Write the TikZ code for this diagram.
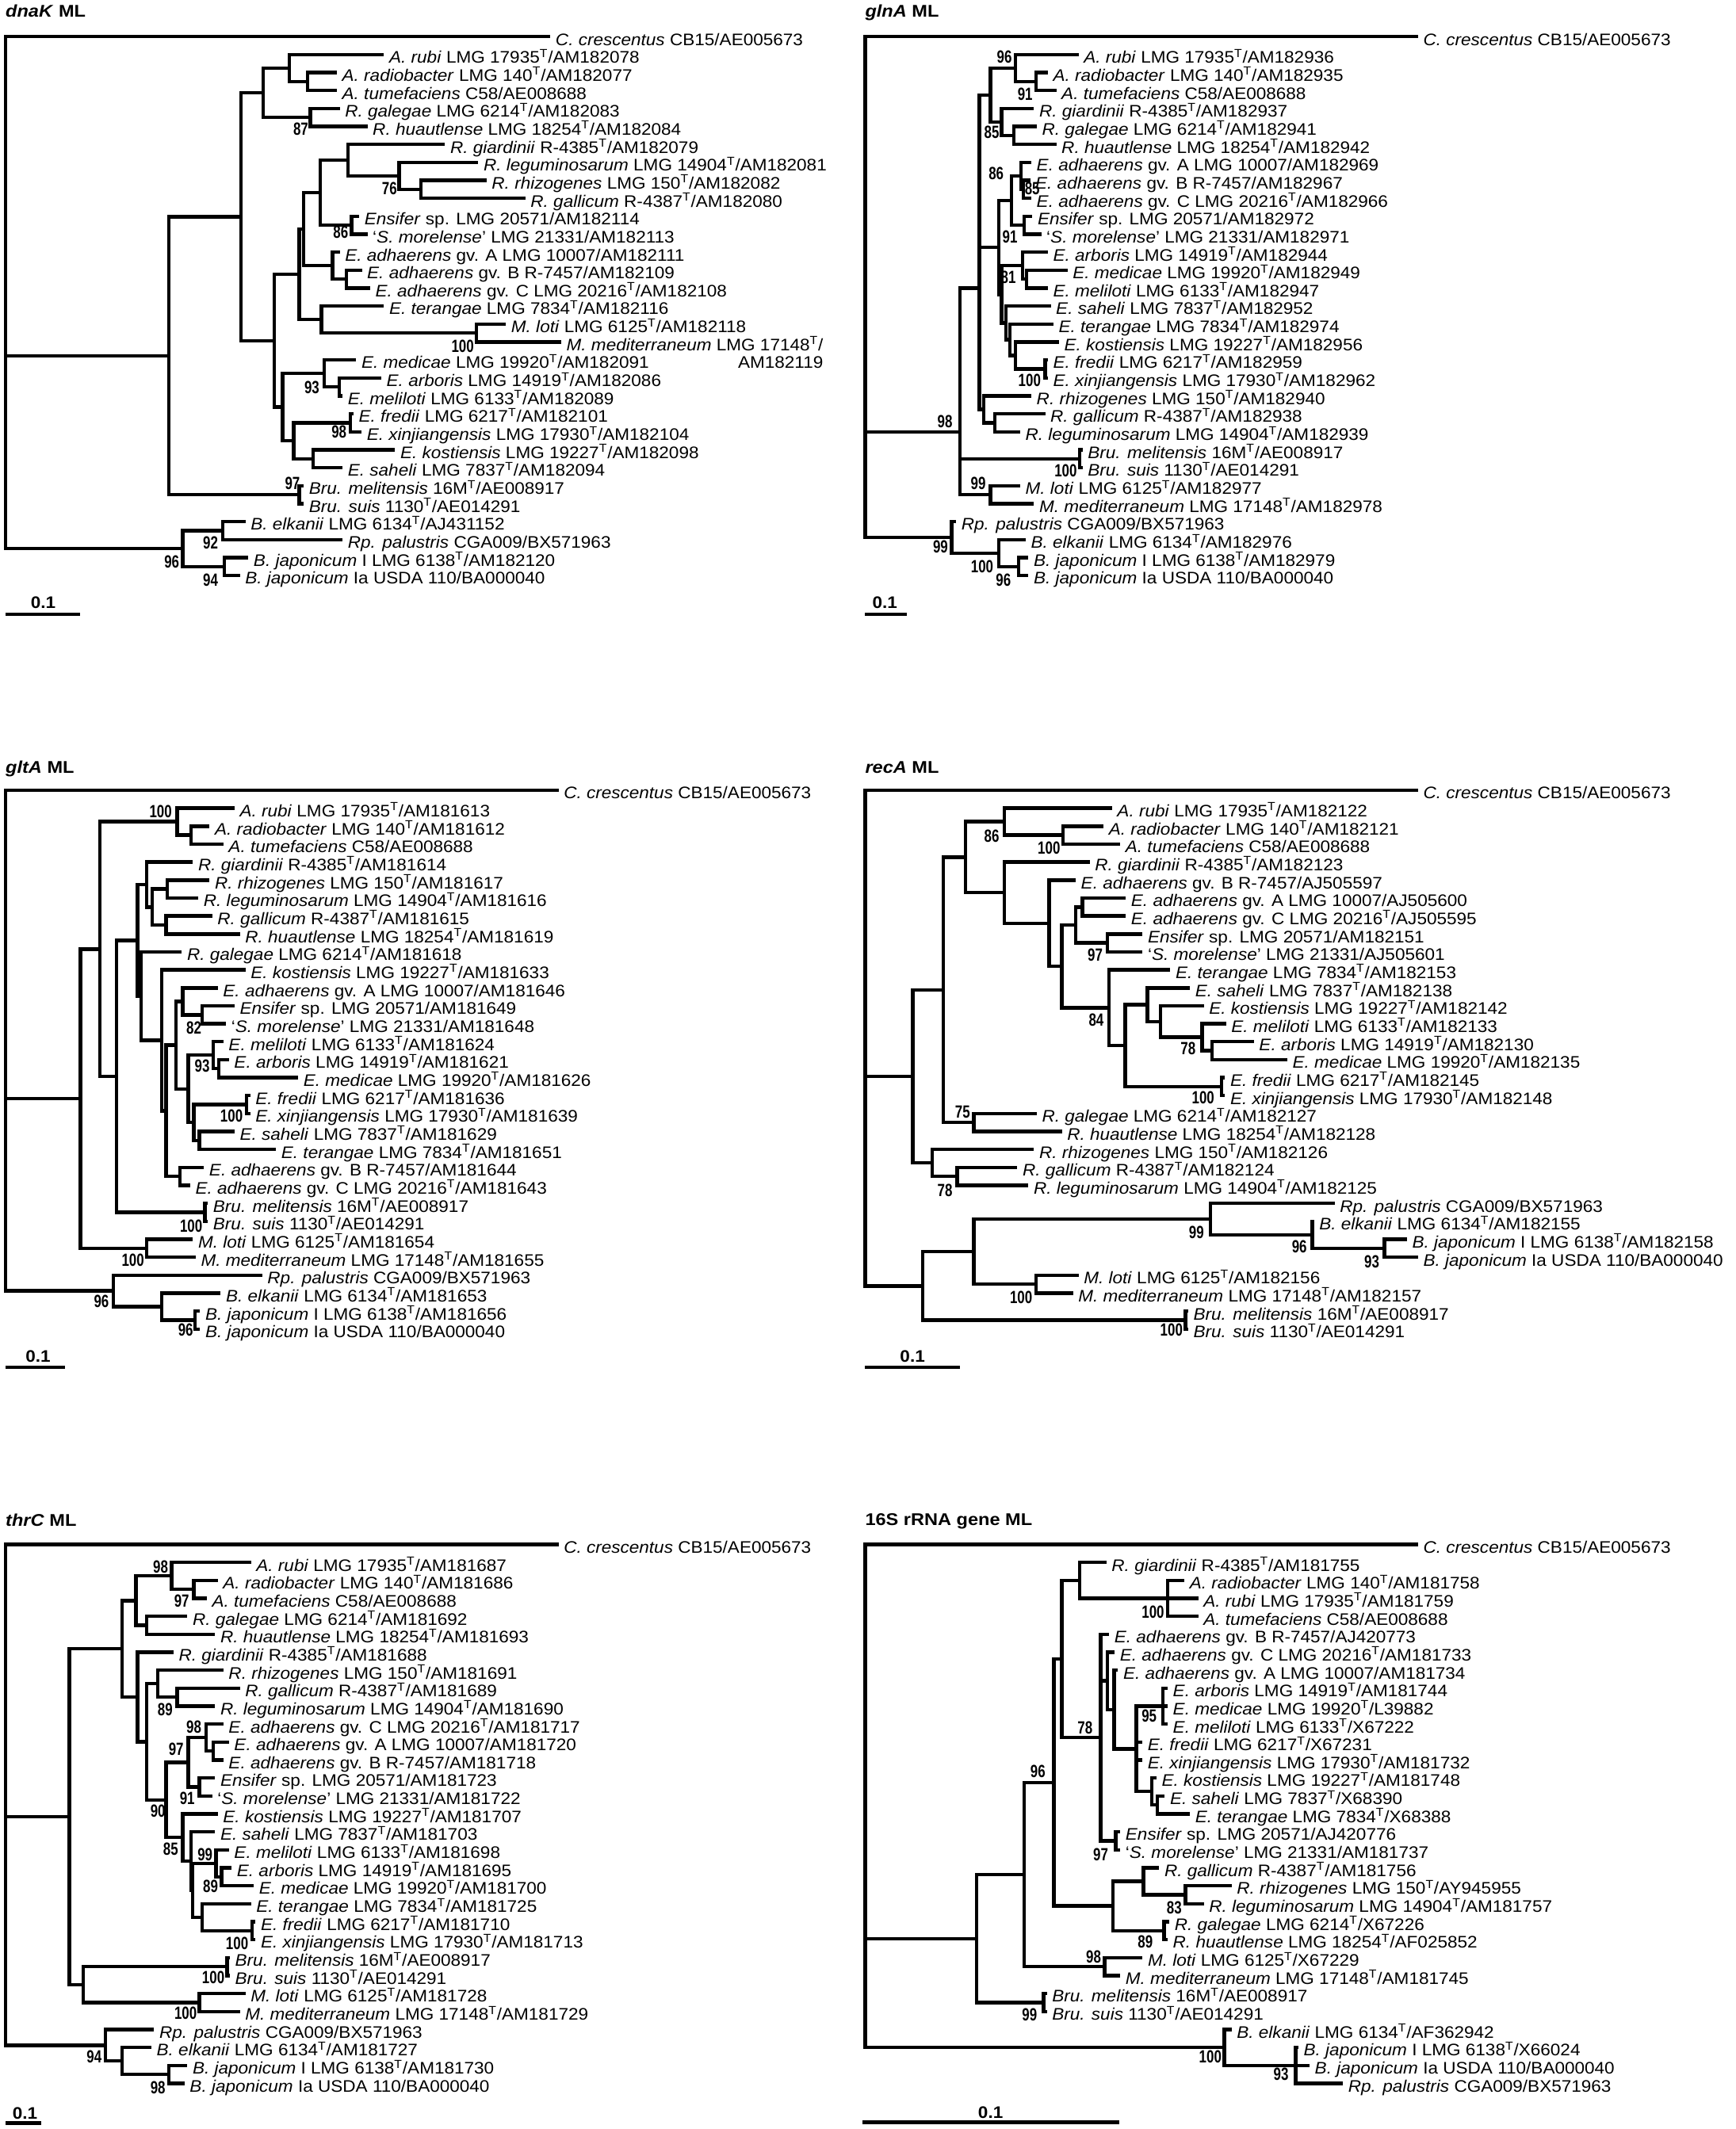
\documentclass[tikz,border=0pt]{standalone}
\usepackage{fontspec}
\setmainfont{Liberation Sans}[FakeStretch=1.07]
\newfontfamily\bsf{Liberation Sans}[FakeStretch=0.76]
\newfontfamily\ttf{Liberation Sans}[FakeStretch=1.1]
\usetikzlibrary{calc}
\newcounter{bsc}
\newcommand\supT{\textsuperscript{T}}
\def\Bz{0}
\tikzset{
 brl/.style={line width=2.6pt, line cap=rect},
 lab/.style={anchor=base west, inner sep=0pt, font=\fontsize{12.3}{14}\selectfont},
 bsn/.style={inner sep=0pt, font=\bsf\bfseries\fontsize{13}{13}\selectfont},
 ttl/.style={anchor=base west, inner sep=0pt, font=\ttf\bfseries\fontsize{12.5}{14}\selectfont},
 sbt/.style={inner sep=0pt, font=\bfseries\fontsize{12.3}{14}\selectfont}
}
\newcommand\lf[4]{\coordinate (#1) at (#2pt,{-(\Bz+13.23*#3)*1pt});
  \node[lab] (#1l) at ([xshift=5pt,yshift=-6.3pt]#1) {#4};}
\newcommand\nd[4]{\path let \p1=(#3),\p2=(#4) in (#2pt,{0.5*\y1+0.5*\y2}) coordinate (#1);
  \draw[brl] (#1) |- (#3); \draw[brl] (#1) |- (#4);}
\newcommand\ndm[5]{\nd{#1}{#2}{#3}{#4}\foreach \kid in {#5}{\draw[brl] (#1) |- (\kid);}}
\newcommand\nde[4]{\coordinate (#1) at (#2pt,{-(\Bz+13.23*#3)*1pt});
  \foreach \kid in {#4}{\draw[brl] (#1) |- (\kid);}}
\newcommand\bs[3]{\stepcounter{bsc}\node[bsn] (bs\arabic{bsc}) at (#1pt,-#2pt) {#3};}
% species
\newcommand\Ccr{\textit{C. crescentus} CB15/AE005673}
\newcommand\Arubi[1]{\textit{A. rubi} LMG 17935\supT/#1}
\newcommand\Arad[1]{\textit{A. radiobacter} LMG 140\supT/#1}
\newcommand\Atum{\textit{A. tumefaciens} C58/AE008688}
\newcommand\Rgal[1]{\textit{R. galegae} LMG 6214\supT/#1}
\newcommand\Rhua[1]{\textit{R. huautlense} LMG 18254\supT/#1}
\newcommand\Rgia[1]{\textit{R. giardinii} R-4385\supT/#1}
\newcommand\Rleg[1]{\textit{R. leguminosarum} LMG 14904\supT/#1}
\newcommand\Rrhi[1]{\textit{R. rhizogenes} LMG 150\supT/#1}
\newcommand\Rgll[1]{\textit{R. gallicum} R-4387\supT/#1}
\newcommand\Ens[1]{\textit{Ensifer} sp. LMG 20571/#1}
\newcommand\Smor[1]{‘\textit{S. morelense}’ LMG 21331/#1}
\newcommand\EaA[1]{\textit{E. adhaerens} gv. A LMG 10007/#1}
\newcommand\EaB[1]{\textit{E. adhaerens} gv. B R-7457/#1}
\newcommand\EaC[1]{\textit{E. adhaerens} gv. C LMG 20216\supT/#1}
\newcommand\Eter[1]{\textit{E. terangae} LMG 7834\supT/#1}
\newcommand\Mlot[1]{\textit{M. loti} LMG 6125\supT/#1}
\newcommand\Mmed[1]{\textit{M. mediterraneum} LMG 17148\supT/#1}
\newcommand\Emed[1]{\textit{E. medicae} LMG 19920\supT/#1}
\newcommand\Earb[1]{\textit{E. arboris} LMG 14919\supT/#1}
\newcommand\Emel[1]{\textit{E. meliloti} LMG 6133\supT/#1}
\newcommand\Efre[1]{\textit{E. fredii} LMG 6217\supT/#1}
\newcommand\Exin[1]{\textit{E. xinjiangensis} LMG 17930\supT/#1}
\newcommand\Ekos[1]{\textit{E. kostiensis} LMG 19227\supT/#1}
\newcommand\Esah[1]{\textit{E. saheli} LMG 7837\supT/#1}
\newcommand\Bmel{\textit{Bru. melitensis} 16M\supT/AE008917}
\newcommand\Bsui{\textit{Bru. suis} 1130\supT/AE014291}
\newcommand\Belk[1]{\textit{B. elkanii} LMG 6134\supT/#1}
\newcommand\Rpal{\textit{Rp. palustris} CGA009/BX571963}
\newcommand\BjI[1]{\textit{B. japonicum} I LMG 6138\supT/#1}
\newcommand\BjIa{\textit{B. japonicum} Ia USDA 110/BA000040}
\begin{document}
\begin{tikzpicture}
\useasboundingbox (0,0) rectangle (1278pt,-1568pt);
% ================= dnaK =================
\def\Bz{27}
\node[ttl] (T1) at (4pt,-12.4pt) {\textit{dnaK} ML};
\lf{d0}{404}{0}{\Ccr}
\lf{d1}{281.5}{1}{\Arubi{AM182078}}
\lf{d2}{246.8}{2}{\Arad{AM182077}}
\lf{d3}{246.8}{3}{\Atum}
\lf{d4}{248.9}{4}{\Rgal{AM182083}}
\lf{d5}{269.3}{5}{\Rhua{AM182084}}
\lf{d6}{326.4}{6}{\Rgia{AM182079}}
\lf{d7}{350.9}{7}{\Rleg{AM182081}}
\lf{d8}{357}{8}{\Rrhi{AM182082}}
\lf{d9}{385.6}{9}{\Rgll{AM182080}}
\lf{d10}{263.2}{10}{\Ens{AM182114}}
\lf{d11}{269.3}{11}{\Smor{AM182113}}
\lf{d12}{248.9}{12}{\EaA{AM182111}}
\lf{d13}{265.2}{13}{\EaB{AM182109}}
\lf{d14}{271.3}{14}{\EaC{AM182108}}
\lf{d15}{281.5}{15}{\Eter{AM182116}}
\lf{d16}{371.3}{16}{\Mlot{AM182118}}
\lf{d17}{412}{17}{\Mmed{}}
\node[lab,anchor=base east] (d17m) at ([yshift=-13.23pt]d17l.base east) {AM182119};
\lf{d18}{261}{18}{\Emed{AM182091}}
\lf{d19}{279.5}{19}{\Earb{AM182086}}
\lf{d20}{251}{20}{\Emel{AM182089}}
\lf{d21}{259}{21}{\Efre{AM182101}}
\lf{d22}{265}{22}{\Exin{AM182104}}
\lf{d23}{289.7}{23}{\Ekos{AM182098}}
\lf{d24}{251}{24}{\Esah{AM182094}}
\lf{d25}{222.4}{25}{\Bmel}
\lf{d26}{222.4}{26}{\Bsui}
\lf{d27}{179.5}{27}{\Belk{AJ431152}}
\lf{d28}{251}{28}{\Rpal}
\lf{d29}{181.6}{29}{\BjI{AM182120}}
\lf{d30}{175.4}{30}{\BjIa}
\nd{dRT}{226.4}{d2}{d3}
\nd{dAgro}{213}{d1}{dRT}
\nd{dRgh}{228.5}{d4}{d5}
\nd{dAR}{193.8}{dAgro}{dRgh}
\nd{dR3}{310}{d8}{d9}
\nd{dR2}{293.8}{d7}{dR3}
\nd{dR}{256.2}{d6}{dR2}
\nd{dEns}{259}{d10}{d11}
\nd{dD1a}{235.8}{dR}{dEns}
\nd{dBC}{255}{d13}{d14}
\nd{dEadh}{244.8}{d12}{dBC}
\nd{dD1}{223.6}{dD1a}{dEadh}
\nd{dM}{350.9}{d16}{d17}
\nd{dD2}{236.6}{d15}{dM}
\nd{dD}{220.3}{dD1}{dD2}
\nd{dE1b}{249.7}{d19}{d20}
\nd{dE1}{238.7}{d18}{dE1b}
\nd{dFX}{257.9}{d21}{d22}
\nd{dKS}{230.5}{d23}{d24}
\nd{dE2}{216.2}{dFX}{dKS}
\nd{dE}{208}{dE1}{dE2}
\nd{dC}{202}{dD}{dE}
\nd{dB}{177.5}{dAR}{dC}
\nd{dBru}{220.3}{d25}{d26}
\nd{dA}{124.4}{dB}{dBru}
\nd{dG}{164}{d27}{d28}
\nd{dH}{165.2}{d29}{d30}
\nd{dBr}{134.6}{dG}{dH}
\nde{dRoot}{4}{0}{d0,dA,dBr}
\bs{221.5}{95.3}{87}\bs{286.8}{139.1}{76}\bs{250.9}{170.9}{86}\bs{340.7}{254.9}{100}
\bs{229.7}{285.1}{93}\bs{249.7}{318.1}{98}\bs{215.4}{356.1}{97}\bs{155}{399.9}{92}
\bs{126.5}{413.5}{96}\bs{155}{427.1}{94}
\coordinate (sb1a) at (4pt,-452.4pt); \coordinate (sb1b) at (59pt,-452.4pt);
\draw[brl,line cap=butt] (sb1a) -- (sb1b);
\node[sbt] (sb1t) at (31.8pt,-443.6pt) {0.1};
% ================= glnA =================
\def\Bz{27}
\node[ttl] (T2) at (637pt,-12.4pt) {\textit{glnA} ML};
\lf{g0}{1043}{0}{\Ccr}
\lf{g1}{793}{1}{\Arubi{AM182936}}
\lf{g2}{770.4}{2}{\Arad{AM182935}}
\lf{g3}{776.6}{3}{\Atum}
\lf{g4}{760.2}{4}{\Rgia{AM182937}}
\lf{g5}{762.2}{5}{\Rgal{AM182941}}
\lf{g6}{776.6}{6}{\Rhua{AM182942}}
\lf{g7}{758.2}{7}{\EaA{AM182969}}
\lf{g8}{757.3}{8}{\EaB{AM182967}}
\lf{g9}{758.2}{9}{\EaC{AM182966}}
\lf{g10}{759}{10}{\Ens{AM182972}}
\lf{g11}{765.5}{11}{\Smor{AM182971}}
\lf{g12}{770.4}{12}{\Earb{AM182944}}
\lf{g13}{784.8}{13}{\Emed{AM182949}}
\lf{g14}{770.4}{14}{\Emel{AM182947}}
\lf{g15}{772.5}{15}{\Esah{AM182952}}
\lf{g16}{774.5}{16}{\Eter{AM182974}}
\lf{g17}{778.6}{17}{\Ekos{AM182956}}
\lf{g18}{770.4}{18}{\Efre{AM182959}}
\lf{g19}{770.4}{19}{\Exin{AM182962}}
\lf{g20}{758.2}{20}{\Rrhi{AM182940}}
\lf{g21}{768.4}{21}{\Rgll{AM182938}}
\lf{g22}{750}{22}{\Rleg{AM182939}}
\lf{g23}{795.9}{23}{\Bmel}
\lf{g24}{795.9}{24}{\Bsui}
\lf{g25}{750}{25}{\Mlot{AM182977}}
\lf{g26}{760.2}{26}{\Mmed{AM182978}}
\lf{g27}{702.8}{27}{\Rpal}
\lf{g28}{754}{28}{\Belk{AM182976}}
\lf{g29}{756.1}{29}{\BjI{AM182979}}
\lf{g30}{756.1}{30}{\BjIa}
\nd{gRT}{763.1}{g2}{g3}
\nd{gAgro}{747.9}{g1}{gRT}
\nd{gGH}{746.7}{g5}{g6}
\nd{gR}{737.7}{g4}{gGH}
\nd{gAR}{729.5}{gAgro}{gR}
\nd{gBC}{753.6}{g8}{g9}
\nd{gAdh}{752}{g7}{gBC}
\nd{gEns}{754.1}{g10}{g11}
\nd{gAE}{745}{gAdh}{gEns}
\nd{gMM}{756.1}{g13}{g14}
\nd{gAM}{753.2}{g12}{gMM}
\nd{gFX}{769.6}{g18}{g19}
\nd{gKF}{747.9}{g17}{gFX}
\nd{gTK}{743.8}{g16}{gKF}
\nd{gST}{740.9}{g15}{gTK}
\nd{gE2}{737.7}{gAM}{gST}
\nd{gE}{735.6}{gAE}{gE2}
\nd{gGL}{732.7}{g21}{g22}
\nd{gRR}{724.5}{g20}{gGL}
\nde{gB}{721.3}{14}{gAR,gE,gRR}
\nd{gBru}{795}{g23}{g24}
\nd{gM}{729.5}{g25}{g26}
\nde{gA}{706.9}{22}{gB,gBru,gM}
\nd{gBJ}{750}{g29}{g30}
\nd{gBE}{735.6}{g28}{gBJ}
\nd{gBr}{700.8}{g27}{gBE}
\nde{gRoot}{637.2}{0}{g0,gA,gBr}
\bs{739.7}{41.8}{96}\bs{754.9}{69.1}{91}\bs{730.3}{97.3}{85}\bs{733.6}{127.5}{86}
\bs{760.2}{139.1}{85}\bs{743.8}{174.2}{91}\bs{742.6}{204.3}{81}\bs{758.2}{280.2}{100}
\bs{695.9}{310.4}{98}\bs{784.8}{346.4}{100}\bs{720.4}{356.1}{99}\bs{692.6}{402.8}{99}
\bs{723.3}{417.4}{100}\bs{738.9}{427.1}{96}
\coordinate (sb2a) at (637pt,-452.4pt); \coordinate (sb2b) at (668pt,-452.4pt);
\draw[brl,line cap=butt] (sb2a) -- (sb2b);
\node[sbt] (sb2t) at (651.6pt,-444pt) {0.1};
% ================= gltA =================
\def\Bz{582}
\node[ttl] (T3) at (4pt,-569.7pt) {\textit{gltA} ML};
\lf{t0}{410}{0}{\Ccr}
\lf{t1}{171.4}{1}{\Arubi{AM181613}}
\lf{t2}{153}{2}{\Arad{AM181612}}
\lf{t3}{163.2}{3}{\Atum}
\lf{t4}{140.8}{4}{\Rgia{AM181614}}
\lf{t5}{153}{5}{\Rrhi{AM181617}}
\lf{t6}{144.8}{6}{\Rleg{AM181616}}
\lf{t7}{155}{7}{\Rgll{AM181615}}
\lf{t8}{175.4}{8}{\Rhua{AM181619}}
\lf{t9}{132.6}{9}{\Rgal{AM181618}}
\lf{t10}{179.5}{10}{\Ekos{AM181633}}
\lf{t11}{159.1}{11}{\EaA{AM181646}}
\lf{t12}{171.4}{12}{\Ens{AM181649}}
\lf{t13}{165.2}{13}{\Smor{AM181648}}
\lf{t14}{163.2}{14}{\Emel{AM181624}}
\lf{t15}{167.3}{15}{\Earb{AM181621}}
\lf{t16}{218.3}{16}{\Emed{AM181626}}
\lf{t17}{183}{17}{\Efre{AM181636}}
\lf{t18}{183}{18}{\Exin{AM181639}}
\lf{t19}{171.4}{19}{\Esah{AM181629}}
\lf{t20}{202}{20}{\Eter{AM181651}}
\lf{t21}{148.9}{21}{\EaB{AM181644}}
\lf{t22}{138.7}{22}{\EaC{AM181643}}
\lf{t23}{151.8}{23}{\Bmel}
\lf{t24}{151.8}{24}{\Bsui}
\lf{t25}{140.8}{25}{\Mlot{AM181654}}
\lf{t26}{142.8}{26}{\Mmed{AM181655}}
\lf{t27}{191.8}{27}{\Rpal}
\lf{t28}{161.2}{28}{\Belk{AM181653}}
\lf{t29}{146}{29}{\BjI{AM181656}}
\lf{t30}{146}{30}{\BjIa}
\nd{tRT}{140.8}{t2}{t3}
\nd{tAgro}{130.6}{t1}{tRT}
\nd{tRL}{123.2}{t5}{t6}
\nd{tGH}{122.4}{t7}{t8}
\nd{tRLGH}{112.2}{tRL}{tGH}
\nd{tRg}{108.1}{t4}{tRLGH}
\nd{tES}{148.9}{t12}{t13}
\nd{tAES}{134.6}{t11}{tES}
\nd{tAM}{161.2}{t15}{t16}
\nd{tMAM}{157}{t14}{tAM}
\nd{tFX}{181.6}{t17}{t18}
\nd{tST}{146.9}{t19}{t20}
\nd{tFXST}{142.8}{tFX}{tST}
\nd{tQ}{138.7}{tMAM}{tFXST}
\nd{tY}{129.7}{tAES}{tQ}
\nd{tBC}{132.6}{t21}{t22}
\nd{tZ}{122.4}{tY}{tBC}
\nd{tK}{119.1}{t10}{tZ}
\nd{tRG2}{104}{t9}{tK}
\nd{tX1}{101.2}{tRg}{tRG2}
\nd{tBru}{151}{t23}{t24}
\nd{tX0}{85.7}{tX1}{tBru}
\nd{tW}{73.4}{tAgro}{tX0}
\nd{tM}{108.1}{t25}{t26}
\nd{tV}{59.2}{tW}{tM}
\nd{tBJ}{143.6}{t29}{t30}
\nd{tEBJ}{119.1}{t28}{tBJ}
\nd{tBr}{83.6}{t27}{tEBJ}
\nde{tRoot}{4.1}{0}{t0,tV,tBr}
\bs{118.3}{597.4}{100}\bs{142.8}{756.9}{82}\bs{148.9}{785.1}{93}\bs{170.5}{822.1}{100}
\bs{140.8}{902.9}{100}\bs{97.9}{928.2}{100}\bs{74.7}{958.3}{96}\bs{136.7}{979.7}{96}
\coordinate (sb3a) at (4pt,-1007pt); \coordinate (sb3b) at (48pt,-1007pt);
\draw[brl,line cap=butt] (sb3a) -- (sb3b);
\node[sbt] (sb3t) at (28pt,-999pt) {0.1};
% ================= recA =================
\def\Bz{582}
\node[ttl] (T4) at (637pt,-569.7pt) {\textit{recA} ML};
\lf{r0}{1043}{0}{\Ccr}
\lf{r1}{817.6}{1}{\Arubi{AM182122}}
\lf{r2}{811.4}{2}{\Arad{AM182121}}
\lf{r3}{823.7}{3}{\Atum}
\lf{r4}{801.2}{4}{\Rgia{AM182123}}
\lf{r5}{790.9}{5}{\EaB{AJ505597}}
\lf{r6}{827.8}{6}{\EaA{AJ505600}}
\lf{r7}{827.8}{7}{\EaC{AJ505595}}
\lf{r8}{840.1}{8}{\Ens{AM182151}}
\lf{r9}{840.1}{9}{\Smor{AJ505601}}
\lf{r10}{860.6}{10}{\Eter{AM182153}}
\lf{r11}{875}{11}{\Esah{AM182138}}
\lf{r12}{885.2}{12}{\Ekos{AM182142}}
\lf{r13}{901.6}{13}{\Emel{AM182133}}
\lf{r14}{922.1}{14}{\Earb{AM182130}}
\lf{r15}{946.7}{15}{\Emed{AM182135}}
\lf{r16}{900.8}{16}{\Efre{AM182145}}
\lf{r17}{900.8}{17}{\Exin{AM182148}}
\lf{r18}{762.2}{18}{\Rgal{AM182127}}
\lf{r19}{780.7}{19}{\Rhua{AM182128}}
\lf{r20}{760.2}{20}{\Rrhi{AM182126}}
\lf{r21}{747.9}{21}{\Rgll{AM182124}}
\lf{r22}{756.1}{22}{\Rleg{AM182125}}
\lf{r23}{981.5}{23}{\Rpal}
\lf{r24}{966.4}{24}{\Belk{AM182155}}
\lf{r25}{1034.8}{25}{\BjI{AM182158}}
\lf{r26}{1043}{26}{\BjIa}
\lf{r27}{793}{27}{\Mlot{AM182156}}
\lf{r28}{788.9}{28}{\Mmed{AM182157}}
\lf{r29}{873.7}{29}{\Bmel}
\lf{r30}{873.7}{30}{\Bsui}
\nd{rRT}{782.7}{r2}{r3}
\nd{rAgro}{739.7}{r1}{rRT}
\nd{rAC}{797.1}{r6}{r7}
\nd{rES}{815.5}{r8}{r9}
\nd{rACES}{792.2}{rAC}{rES}
\nd{rAM}{892.6}{r14}{r15}
\nd{rMAM}{885.2}{r13}{rAM}
\nd{rKM}{854.5}{r12}{rMAM}
\nd{rS}{845}{r11}{rKM}
\nd{rFX}{899.5}{r16}{r17}
\nd{rSF}{828.6}{rS}{rFX}
\nd{rTE}{816.8}{r10}{rSF}
\nd{rE}{781.9}{rACES}{rTE}
\nd{rEb}{772.5}{r5}{rE}
\nd{rGi}{739.7}{r4}{rEb}
\nd{rAG}{711}{rAgro}{rGi}
\nd{rGH}{717.2}{r18}{r19}
\nd{rX}{694.6}{rAG}{rGH}
\nd{rGL}{704.9}{r21}{r22}
\nd{rRR}{686.4}{r20}{rGL}
\nd{rY}{672.1}{rX}{rRR}
\nd{rBJ}{1019.6}{r25}{r26}
\nd{rEJ}{966.4}{r24}{rBJ}
\nd{rRpB}{891.3}{r23}{rEJ}
\nd{rM}{763.1}{r27}{r28}
\nd{rBM}{717.2}{rRpB}{rM}
\nd{rBru}{872.9}{r29}{r30}
\nd{rBx}{679.5}{rBM}{rBru}
\nde{rRoot}{637.2}{0}{r0,rY,rBx}
\bs{730.3}{615.9}{86}\bs{772.5}{624.6}{100}\bs{806.5}{703.4}{97}\bs{807.3}{751.1}{84}
\bs{875}{772.5}{78}\bs{886}{808.5}{100}\bs{708.9}{819.2}{75}\bs{695.9}{876.6}{78}
\bs{881.1}{907.7}{99}\bs{956.9}{918.4}{96}\bs{1010.2}{929.1}{93}\bs{752}{955.4}{100}
\bs{862.7}{979.7}{100}
\coordinate (sb4a) at (637pt,-1007pt); \coordinate (sb4b) at (707pt,-1007pt);
\draw[brl,line cap=butt] (sb4a) -- (sb4b);
\node[sbt] (sb4t) at (672pt,-999pt) {0.1};
% ================= thrC =================
\def\Bz{1137.5}
\node[ttl] (T5) at (4pt,-1124.3pt) {\textit{thrC} ML};
\lf{h0}{410}{0}{\Ccr}
\lf{h1}{183.6}{1}{\Arubi{AM181687}}
\lf{h2}{159.1}{2}{\Arad{AM181686}}
\lf{h3}{151}{3}{\Atum}
\lf{h4}{136.7}{4}{\Rgal{AM181692}}
\lf{h5}{157.1}{5}{\Rhua{AM181693}}
\lf{h6}{126.5}{6}{\Rgia{AM181688}}
\lf{h7}{163.2}{7}{\Rrhi{AM181691}}
\lf{h8}{175.4}{8}{\Rgll{AM181689}}
\lf{h9}{157.1}{9}{\Rleg{AM181690}}
\lf{h10}{163.2}{10}{\EaC{AM181717}}
\lf{h11}{167.3}{11}{\EaA{AM181720}}
\lf{h12}{163.2}{12}{\EaB{AM181718}}
\lf{h13}{157.1}{13}{\Ens{AM181723}}
\lf{h14}{155}{14}{\Smor{AM181722}}
\lf{h15}{159.1}{15}{\Ekos{AM181707}}
\lf{h16}{157.1}{16}{\Esah{AM181703}}
\lf{h17}{167.3}{17}{\Emel{AM181698}}
\lf{h18}{169.3}{18}{\Earb{AM181695}}
\lf{h19}{185.6}{19}{\Emed{AM181700}}
\lf{h20}{183.6}{20}{\Eter{AM181725}}
\lf{h21}{186.9}{21}{\Efre{AM181710}}
\lf{h22}{186.9}{22}{\Exin{AM181713}}
\lf{h23}{168}{23}{\Bmel}
\lf{h24}{168}{24}{\Bsui}
\lf{h25}{179.5}{25}{\Mlot{AM181728}}
\lf{h26}{175.4}{26}{\Mmed{AM181729}}
\lf{h27}{112.2}{27}{\Rpal}
\lf{h28}{110.2}{28}{\Belk{AM181727}}
\lf{h29}{136.7}{29}{\BjI{AM181730}}
\lf{h30}{134.6}{30}{\BjIa}
\nd{hRT}{142.8}{h2}{h3}
\nd{hAgro}{126.5}{h1}{hRT}
\nd{hGH}{108.1}{h4}{h5}
\nd{hAgGH}{100}{hAgro}{hGH}
\nd{hGL}{130.6}{h8}{h9}
\nd{hRR}{116.3}{h7}{hGL}
\nd{hAB}{157.1}{h11}{h12}
\nd{hCAB}{151.8}{h10}{hAB}
\nd{hES}{146.9}{h13}{h14}
\nd{hCE}{138.7}{hCAB}{hES}
\nd{hAM}{163.2}{h18}{h19}
\nd{hMAM}{159.1}{h17}{hAM}
\nd{hFX}{185.6}{h21}{h22}
\nd{hTFX}{148.9}{h20}{hFX}
\nd{hQ}{142}{hMAM}{hTFX}
\nd{hSQ}{140.8}{h16}{hQ}
\nd{hK}{134.6}{h15}{hSQ}
\nd{hE}{122.4}{hCE}{hK}
\nd{hRE}{108.1}{hRR}{hE}
\nd{hGi}{101.2}{h6}{hRE}
\nd{hU}{89.8}{hAgGH}{hGi}
\nd{hBru}{167.3}{h23}{h24}
\nd{hM}{146.9}{h25}{h26}
\nd{hBM}{61.2}{hBru}{hM}
\nd{hV}{51}{hU}{hBM}
\nd{hBJ}{124.4}{h29}{h30}
\nd{hEBJ}{89.8}{h28}{hBJ}
\nd{hBr}{77.5}{h27}{hEBJ}
\nde{hRoot}{4.1}{0}{h0,hV,hBr}
\bs{118.3}{1153.9}{98}\bs{133.8}{1179.2}{97}\bs{121.6}{1259}{89}\bs{142.8}{1271.7}{98}
\bs{129.7}{1288.2}{97}\bs{137.9}{1324.2}{91}\bs{116.3}{1333.9}{90}\bs{125.7}{1362.1}{85}
\bs{151}{1366}{99}\bs{155}{1389.4}{89}\bs{174.6}{1431.2}{100}\bs{157.1}{1456.5}{100}
\bs{136.7}{1482.8}{100}\bs{69.4}{1514.9}{94}\bs{116.3}{1537.3}{98}
\coordinate (sb5a) at (4pt,-1563.5pt); \coordinate (sb5b) at (30.6pt,-1563.5pt);
\draw[brl,line cap=butt] (sb5a) -- (sb5b);
\node[sbt] (sb5t) at (18.4pt,-1556.5pt) {0.1};
% ================= 16S =================
\def\Bz{1137.5}
\node[ttl] (T6) at (637pt,-1123.3pt) {16S rRNA gene ML};
\lf{s0}{1043}{0}{\Ccr}
\lf{s1}{813.5}{1}{\Rgia{AM181755}}
\lf{s2}{870.9}{2}{\Arad{AM181758}}
\lf{s3}{881.1}{3}{\Arubi{AM181759}}
\lf{s4}{881.1}{4}{\Atum}
\lf{s5}{815.5}{5}{\EaB{AJ420773}}
\lf{s6}{819.6}{6}{\EaC{AM181733}}
\lf{s7}{822}{7}{\EaA{AM181734}}
\lf{s8}{858.6}{8}{\Earb{AM181744}}
\lf{s9}{858.6}{9}{\Emed{L39882}}
\lf{s10}{858.6}{10}{\Emel{X67222}}
\lf{s11}{840}{11}{\Efre{X67231}}
\lf{s12}{840}{12}{\Exin{AM181732}}
\lf{s13}{850.4}{13}{\Ekos{AM181748}}
\lf{s14}{856.5}{14}{\Esah{X68390}}
\lf{s15}{875}{15}{\Eter{X68388}}
\lf{s16}{823.7}{16}{\Ens{AJ420776}}
\lf{s17}{823.7}{17}{\Smor{AM181737}}
\lf{s18}{852.4}{18}{\Rgll{AM181756}}
\lf{s19}{905.7}{19}{\Rrhi{AY945955}}
\lf{s20}{885.2}{20}{\Rleg{AM181757}}
\lf{s21}{859.8}{21}{\Rgal{X67226}}
\lf{s22}{858.6}{22}{\Rhua{AF025852}}
\lf{s23}{840.1}{23}{\Mlot{X67229}}
\lf{s24}{823.7}{24}{\Mmed{AM181745}}
\lf{s25}{769.6}{25}{\Bmel}
\lf{s26}{769.6}{26}{\Bsui}
\lf{s27}{905.7}{27}{\Belk{AF362942}}
\lf{s28}{954.9}{28}{\BjI{X66024}}
\lf{s29}{963.1}{29}{\BjIa}
\lf{s30}{987.7}{30}{\Rpal}
\ndm{sARA}{859.8}{s2}{s4}{s3}
\nd{sRg}{795}{s1}{sARA}
\ndm{sAMM}{856.5}{s8}{s10}{s9}
\nd{sST}{852.4}{s14}{s15}
\nd{sKST}{848.3}{s13}{sST}
\ndm{sG}{836.8}{sAMM}{sKST}{s11,s12}
\nd{sF}{820.5}{s7}{sG}
\nd{sE}{815.5}{s6}{sF}
\nd{sES}{821.7}{s16}{s17}
\ndm{sN}{810.6}{s5}{sES}{sE}
\nd{sQ}{781.9}{sRg}{sN}
\nd{sRL}{872.9}{s19}{s20}
\nd{sGRL}{842.2}{s18}{sRL}
\nd{sGH}{857.3}{s21}{s22}
\nd{sRc}{819.6}{sGRL}{sGH}
\nd{sP}{776}{sQ}{sRc}
\nd{sM}{813.5}{s23}{s24}
\nd{sO}{754.1}{sP}{sM}
\nd{sBru}{768.4}{s25}{s26}
\nd{sI}{719.2}{sO}{sBru}
\ndm{sJJR}{954.1}{s28}{s30}{s29}
\nd{sBr}{901.6}{s27}{sJJR}
\nde{sRoot}{637.2}{0}{s0,sI,sBr}
\bs{849.1}{1187}{100}\bs{846.3}{1263.9}{95}\bs{799.1}{1272.6}{78}\bs{764.3}{1304.7}{96}
\bs{810.6}{1366}{97}\bs{864.7}{1405}{83}\bs{843.4}{1430.2}{89}\bs{805.3}{1441}{98}
\bs{758.2}{1483.8}{99}\bs{891.3}{1514.9}{100}\bs{943.4}{1527.5}{93}
\coordinate (sb6a) at (635.2pt,-1563pt); \coordinate (sb6b) at (824.5pt,-1563pt);
\draw[brl,line cap=butt] (sb6a) -- (sb6b);
\node[sbt] (sb6t) at (729.5pt,-1556pt) {0.1};
\end{tikzpicture}
\end{document}
